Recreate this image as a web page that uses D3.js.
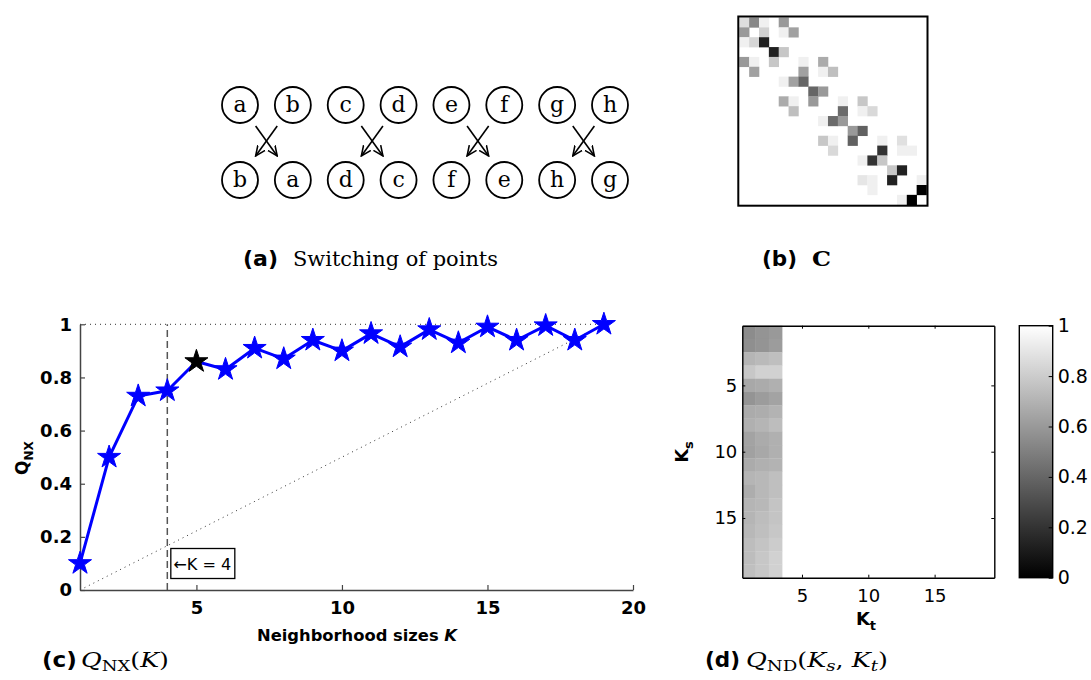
<!DOCTYPE html>
<html>
<head>
<meta charset="utf-8">
<script src="https://cdn.jsdelivr.net/npm/d3@7"></script>
<style>
  body { margin: 0; background: #fff; }
  svg { display: block; }
</style>
</head>
<body>
<div id="fig"></div>
<script>
// (a) switching of points
const topLabels = ["a", "b", "c", "d", "e", "f", "g", "h"];
const bottomLabels = ["b", "a", "d", "c", "f", "e", "h", "g"];

// (b) co-ranking matrix C, 19x19, only the non-empty cells: [row, col, darkness]
const coRanking = [
  [0, 0, 0.13], [0, 1, 0.47], [0, 2, 0.06], [0, 4, 0.40],
  [1, 0, 0.40], [1, 2, 0.18], [1, 4, 0.06], [1, 5, 0.37],
  [2, 0, 0.06], [2, 1, 0.16], [2, 2, 0.87],
  [3, 3, 0.87], [3, 4, 0.22],
  [4, 0, 0.40], [4, 1, 0.06], [4, 3, 0.22], [4, 6, 0.06], [4, 8, 0.33],
  [5, 1, 0.37], [5, 6, 0.37], [5, 8, 0.06], [5, 9, 0.25],
  [6, 4, 0.06], [6, 5, 0.37], [6, 6, 0.60],
  [7, 7, 0.60], [7, 8, 0.40],
  [8, 4, 0.33], [8, 5, 0.06], [8, 7, 0.40], [8, 10, 0.06], [8, 12, 0.22],
  [9, 5, 0.25], [9, 10, 0.58], [9, 12, 0.06], [9, 13, 0.15],
  [10, 8, 0.06], [10, 9, 0.58], [10, 10, 0.40],
  [11, 11, 0.40], [11, 12, 0.62],
  [12, 8, 0.22], [12, 9, 0.06], [12, 11, 0.62], [12, 14, 0.06], [12, 16, 0.12],
  [13, 9, 0.15], [13, 14, 0.80], [13, 16, 0.06], [13, 17, 0.06],
  [14, 12, 0.06], [14, 13, 0.80], [14, 14, 0.22],
  [15, 15, 0.22], [15, 16, 0.87],
  [16, 12, 0.10], [16, 13, 0.06], [16, 15, 0.87], [16, 18, 0.06],
  [17, 13, 0.06], [17, 18, 1.00],
  [18, 16, 0.06], [18, 17, 1.00]
];
const matrixSize = 19;

// (c) Q_NX(K)
const neighborhoodK = [1, 2, 3, 4, 5, 6, 7, 8, 9, 10, 11, 12, 13, 14, 15, 16, 17, 18, 19];
const qnxValues = [0.10, 0.50, 0.73, 0.75, 0.86, 0.83, 0.91, 0.87, 0.94, 0.90,
                   0.965, 0.915, 0.98, 0.93, 0.99, 0.94, 0.995, 0.94, 1.00];
const bestK = 5;
const chosenK = 4;
const qnxXTicks = [5, 10, 15, 20];
const qnxYTicks = [0, 0.2, 0.4, 0.6, 0.8, 1];

// (d) Q_ND(Ks, Kt): Kt = 1..3 columns, Ks = 1..19 rows (rest is 1 / white)
const qndKt1 = [0.55, 0.56, 0.71, 0.78, 0.66, 0.58, 0.67, 0.69, 0.64, 0.63,
                0.67, 0.71, 0.68, 0.71, 0.71, 0.72, 0.74, 0.74, 0.75];
const qndKt2 = [0.58, 0.58, 0.73, 0.82, 0.67, 0.61, 0.68, 0.71, 0.67, 0.66,
                0.69, 0.72, 0.72, 0.72, 0.74, 0.75, 0.77, 0.78, 0.78];
const qndKt3 = [0.60, 0.61, 0.75, 0.82, 0.69, 0.64, 0.70, 0.74, 0.69, 0.69,
                0.70, 0.75, 0.75, 0.77, 0.77, 0.78, 0.80, 0.82, 0.82];
const heatTicks = [5, 10, 15];
const colorbarTicks = [0, 0.2, 0.4, 0.6, 0.8, 1];

const W = 1091, H = 680;
const sans = '"DejaVu Sans", "Liberation Sans", Arial, sans-serif';
const serif = '"DejaVu Serif", serif';

const svg = d3.select("#fig").append("svg")
  .attr("width", W).attr("height", H);

// ---------- (a) ----------
const gA = svg.append("g");
const circX = d3.scaleLinear().domain([0, 7]).range([240, 610]);
const rowY = { top: 105, bottom: 180 };
const r = 18;

[["top", topLabels], ["bottom", bottomLabels]].forEach(([row, labels]) => {
  const g = gA.selectAll("g." + row).data(labels).join("g")
    .attr("class", row)
    .attr("transform", (d, i) => `translate(${circX(i)},${rowY[row]})`);
  g.append("circle").attr("r", r)
    .attr("fill", "none").attr("stroke", "#000").attr("stroke-width", 1.8);
  g.append("text").text(d => d)
    .attr("text-anchor", "middle").attr("y", 7)
    .style("font-family", serif).style("font-size", "22px");
});

const defs = svg.append("defs");
defs.append("marker").attr("id", "arr")
  .attr("viewBox", "0 0 10 10").attr("refX", 9).attr("refY", 5)
  .attr("markerWidth", 7).attr("markerHeight", 7)
  .attr("orient", "auto")
  .append("path").attr("d", "M0,1 L9,5 L0,9")
  .attr("fill", "none").attr("stroke", "#000").attr("stroke-width", 1.4);

const pairs = d3.range(0, topLabels.length, 2);
pairs.forEach(i => {
  const x0 = circX(i), x1 = circX(i + 1);
  const mid = (x0 + x1) / 2;
  const half = 10.8;
  gA.append("line")
    .attr("x1", mid - half).attr("y1", 126).attr("x2", mid + half).attr("y2", 156)
    .attr("stroke", "#000").attr("stroke-width", 1.6).attr("marker-end", "url(#arr)");
  gA.append("line")
    .attr("x1", mid + half).attr("y1", 126).attr("x2", mid - half).attr("y2", 156)
    .attr("stroke", "#000").attr("stroke-width", 1.6).attr("marker-end", "url(#arr)");
});

// ---------- (b) ----------
const gB = svg.append("g");
const cell = d3.scaleBand().domain(d3.range(matrixSize)).range([739.3, 926.5]);
const shade = d3.scaleLinear().domain([0, 1]).range(["#ffffff", "#000000"]);
gB.selectAll("rect.c").data(coRanking).join("rect")
  .attr("class", "c")
  .attr("x", d => cell(d[1]))
  .attr("y", d => 17.5 - 739.3 + cell(d[0]))
  .attr("width", cell.bandwidth() + 0.3)
  .attr("height", cell.bandwidth() + 0.3)
  .attr("fill", d => shade(d[2]));
gB.append("rect")
  .attr("x", 738.3).attr("y", 16.5).attr("width", 189.2).attr("height", 189.2)
  .attr("fill", "none").attr("stroke", "#000").attr("stroke-width", 2);

// ---------- (c) ----------
const gC = svg.append("g");
const x = d3.scaleLinear().domain([1, 20]).range([80, 633]);
const y = d3.scaleLinear().domain([0, 1]).range([590, 324.3]);

// reference lines
gC.append("line")
  .attr("x1", x(1)).attr("x2", x(19)).attr("y1", y(1)).attr("y2", y(1))
  .attr("stroke", "#333").attr("stroke-width", 1).attr("stroke-dasharray", "1,4");
gC.append("line")
  .attr("x1", x(1)).attr("x2", x(19)).attr("y1", y(0)).attr("y2", y(1))
  .attr("stroke", "#333").attr("stroke-width", 1).attr("stroke-dasharray", "1,4");
gC.append("line")
  .attr("x1", x(chosenK)).attr("x2", x(chosenK)).attr("y1", y(0)).attr("y2", y(1))
  .attr("stroke", "#555").attr("stroke-width", 1.5).attr("stroke-dasharray", "7,4");

const xAxisC = gC.append("g").attr("transform", `translate(0,${y(0)})`)
  .call(d3.axisBottom(x).tickValues(qnxXTicks).tickSizeInner(-5).tickSizeOuter(0).tickPadding(11));
const yAxisC = gC.append("g").attr("transform", `translate(${x(1)},0)`)
  .call(d3.axisLeft(y).tickValues(qnxYTicks).tickFormat(d3.format("~g"))
    .tickSizeInner(-5).tickSizeOuter(0).tickPadding(8));
[xAxisC, yAxisC].forEach(a => {
  a.select(".domain").attr("stroke", "#444").attr("stroke-width", 1.5);
  a.selectAll(".tick line").attr("stroke", "#444").attr("stroke-width", 1.2);
  a.selectAll("text").style("font-family", sans).style("font-size", "18px")
    .style("font-weight", "bold").attr("fill", "#000");
});

// the curve
const pts = neighborhoodK.map((k, i) => [k, qnxValues[i]]);
gC.append("path").datum(pts)
  .attr("d", d3.line().x(d => x(d[0])).y(d => y(d[1])))
  .attr("fill", "none").attr("stroke", "#0000ff").attr("stroke-width", 3)
  .attr("stroke-linejoin", "round");
gC.selectAll("path.star").data(pts).join("path")
  .attr("class", "star")
  .attr("d", d3.symbol(d3.symbolStar, 165))
  .attr("transform", d => `translate(${x(d[0])},${y(d[1])})`)
  .attr("fill", d => d[0] === bestK ? "#000" : "#0000ff")
  .attr("stroke", d => d[0] === bestK ? "#000" : "#0000ff")
  .attr("stroke-width", 1);

// K = 4 box
const boxG = gC.append("g");
boxG.append("rect")
  .attr("x", x(chosenK) + 3.5).attr("y", 548.5).attr("width", 64).attr("height", 30)
  .attr("fill", "#fff").attr("stroke", "#000").attr("stroke-width", 1.3);
boxG.append("text")
  .attr("x", x(chosenK) + 6).attr("y", 569.5)
  .attr("textLength", 58).attr("lengthAdjust", "spacingAndGlyphs")
  .style("font-family", sans).style("font-size", "16px")
  .text("\u2190K = " + chosenK);

// axis labels
const xl = gC.append("text")
  .attr("x", 357).attr("y", 641).attr("text-anchor", "middle")
  .attr("textLength", 200).attr("lengthAdjust", "spacingAndGlyphs")
  .style("font-family", sans).style("font-size", "16px").style("font-weight", "bold");
xl.append("tspan").text("Neighborhood sizes ");
xl.append("tspan").text("K").style("font-style", "italic");

const yl = gC.append("text")
  .attr("transform", "translate(28,458) rotate(-90)")
  .attr("text-anchor", "middle")
  .style("font-family", sans).style("font-size", "17px").style("font-weight", "bold");
yl.append("tspan").text("Q");
yl.append("tspan").text("NX").attr("dy", 5).style("font-size", "12px");

// ---------- (d) ----------
const gD = svg.append("g");
const hx = d3.scaleLinear().domain([0.5, 19.5]).range([742.3, 994.3]);
const hy = d3.scaleLinear().domain([0.5, 19.5]).range([325.7, 577.7]);
const grey = d3.scaleLinear().domain([0, 1]).range(["#000000", "#ffffff"]);

const qndCells = [];
[qndKt1, qndKt2, qndKt3].forEach((col, j) => {
  col.forEach((v, i) => qndCells.push({ kt: j + 1, ks: i + 1, v }));
});
gD.append("rect")
  .attr("x", hx(0.5)).attr("y", hy(0.5))
  .attr("width", hx(19.5) - hx(0.5)).attr("height", hy(19.5) - hy(0.5))
  .attr("fill", grey(1));
gD.selectAll("rect.q").data(qndCells).join("rect")
  .attr("class", "q")
  .attr("x", d => hx(d.kt - 0.5)).attr("y", d => hy(d.ks - 0.5))
  .attr("width", hx(1.5) - hx(0.5) + 0.3).attr("height", hy(1.5) - hy(0.5) + 0.3)
  .attr("fill", d => grey(d.v));

function styleHeatAxis(a, labels) {
  a.select(".domain").attr("stroke", "#000").attr("stroke-width", 1.4);
  a.selectAll(".tick line").attr("stroke", "#000").attr("stroke-width", 1);
  a.selectAll("text").style("font-family", sans).style("font-size", "18px")
    .attr("fill", "#000").style("display", labels ? null : "none");
}
styleHeatAxis(gD.append("g").attr("transform", `translate(0,${hy(19.5)})`)
  .call(d3.axisBottom(hx).tickValues(heatTicks).tickSizeInner(-3).tickSizeOuter(0).tickPadding(12)), true);
styleHeatAxis(gD.append("g").attr("transform", `translate(0,${hy(0.5)})`)
  .call(d3.axisTop(hx).tickValues(heatTicks).tickSizeInner(-3).tickSizeOuter(0)), false);
styleHeatAxis(gD.append("g").attr("transform", `translate(${hx(0.5)},0)`)
  .call(d3.axisLeft(hy).tickValues(heatTicks).tickSizeInner(-3).tickSizeOuter(0).tickPadding(5)), true);
styleHeatAxis(gD.append("g").attr("transform", `translate(${hx(19.5)},0)`)
  .call(d3.axisRight(hy).tickValues(heatTicks).tickSizeInner(-3).tickSizeOuter(0)), false);

const ktLabel = gD.append("text").attr("x", 866).attr("y", 625).attr("text-anchor", "middle")
  .style("font-family", sans).style("font-size", "18px").style("font-weight", "bold");
ktLabel.append("tspan").text("K");
ktLabel.append("tspan").text("t").attr("dy", 5).style("font-size", "13px");

const ksLabel = gD.append("text").attr("transform", "translate(688,452) rotate(-90)")
  .attr("text-anchor", "middle")
  .style("font-family", sans).style("font-size", "18px").style("font-weight", "bold");
ksLabel.append("tspan").text("K");
ksLabel.append("tspan").text("s").attr("dy", 5).style("font-size", "13px");

// colorbar
const cb = d3.scaleLinear().domain([0, 1]).range([577.7, 325.7]);
const grad = defs.append("linearGradient").attr("id", "cbgrad")
  .attr("x1", 0).attr("y1", 1).attr("x2", 0).attr("y2", 0);
grad.selectAll("stop").data([0, 1]).join("stop")
  .attr("offset", d => d).attr("stop-color", d => grey(d));
gD.append("rect")
  .attr("x", 1019.3).attr("y", cb(1)).attr("width", 33.4).attr("height", cb(0) - cb(1))
  .attr("fill", "url(#cbgrad)").attr("stroke", "#000").attr("stroke-width", 1.4);
const cbAxis = gD.append("g").attr("transform", "translate(1052.7,0)")
  .call(d3.axisRight(cb).tickValues(colorbarTicks).tickFormat(d3.format("~g"))
    .tickSizeInner(-4).tickSizeOuter(0).tickPadding(5));
cbAxis.select(".domain").remove();
cbAxis.selectAll(".tick line").attr("stroke", "#000");
cbAxis.selectAll("text").style("font-family", sans).style("font-size", "19px").attr("fill", "#000");

// ---------- captions ----------
function tag(xPos, yPos, label) {
  svg.append("text").attr("x", xPos).attr("y", yPos).text(label)
    .attr("textLength", 35).attr("lengthAdjust", "spacingAndGlyphs")
    .style("font-family", '"DejaVu Sans", sans-serif').style("font-weight", "bold")
    .style("font-size", "21px");
}
function mathText(xPos, yPos, width) {
  return svg.append("text").attr("x", xPos).attr("y", yPos)
    .attr("textLength", width).attr("lengthAdjust", "spacingAndGlyphs")
    .style("font-family", serif).style("font-size", "21px");
}
tag(243, 266, "(a)");
mathText(293, 266, 205).text("Switching of points");

tag(762, 266, "(b)");
mathText(812, 266, 19).text("C").style("font-weight", "bold");

tag(42, 667, "(c)");
const capC = mathText(81, 667, 88);
capC.append("tspan").text("Q").style("font-style", "italic");
capC.append("tspan").text("NX").attr("dy", 4).style("font-size", "15px");
capC.append("tspan").text("(").attr("dy", -4);
capC.append("tspan").text("K").style("font-style", "italic");
capC.append("tspan").text(")");

tag(705, 667, "(d)");
const capD = mathText(746, 667, 142);
capD.append("tspan").text("Q").style("font-style", "italic");
capD.append("tspan").text("ND").attr("dy", 4).style("font-size", "15px");
capD.append("tspan").text("(").attr("dy", -4);
capD.append("tspan").text("K").style("font-style", "italic");
capD.append("tspan").text("s").attr("dy", 4).style("font-size", "15px").style("font-style", "italic");
capD.append("tspan").text(", ").attr("dy", -4);
capD.append("tspan").text("K").style("font-style", "italic");
capD.append("tspan").text("t").attr("dy", 4).style("font-size", "15px").style("font-style", "italic");
capD.append("tspan").text(")").attr("dy", -4);
</script>
</body>
</html>
